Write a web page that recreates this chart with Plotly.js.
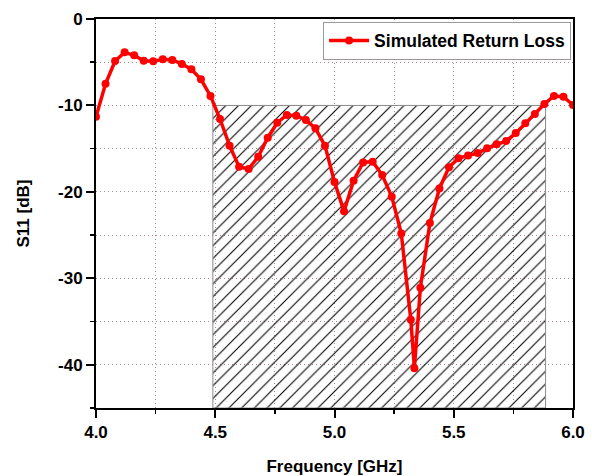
<!DOCTYPE html>
<html>
<head>
<meta charset="utf-8">
<script src="https://cdn.plot.ly/plotly-3.0.1.min.js"></script>
<style>html,body{margin:0;padding:0;background:#fff;}#chart{width:592px;height:476px;}</style>
</head>
<body>
<div id="chart"></div>
<script>
// Simulated return loss (GHz, dB)
var freq = [4.00,4.04,4.08,4.12,4.16,4.20,4.24,4.28,4.32,4.36,4.40,4.44,4.48,
            4.52,4.56,4.60,4.64,4.68,4.72,4.76,4.80,4.84,4.88,4.92,4.96,
            5.00,5.04,5.08,5.12,5.16,5.20,5.24,5.28,5.32,5.335,5.36,5.40,5.44,5.48,
            5.52,5.56,5.60,5.64,5.68,5.72,5.76,5.80,5.84,5.88,5.92,5.96,6.00];
var s11 = [-11.3,-7.5,-4.86,-3.86,-4.2,-4.82,-4.9,-4.67,-4.74,-5.2,-5.82,-6.98,-8.9,
           -11.57,-14.65,-17.08,-17.35,-15.93,-13.73,-12.0,-11.1,-11.18,-11.68,-12.65,-14.65,
           -18.85,-22.25,-18.7,-16.6,-16.5,-18.05,-20.55,-24.8,-34.8,-40.4,-31.1,-23.6,-19.6,-17.15,
           -16.1,-15.8,-15.5,-14.96,-14.5,-14.1,-13.2,-12.07,-11.0,-9.83,-8.9,-8.98,-9.95];
// Hatched band (S11 below -10 dB)
var bandFreq = [4.49, 5.885];
var bandLevel = -10;
var yFloor = -45;
var yTickVals = [0,-10,-20,-30,-40];
var yTickText = ['0','-10','-20','-30','-40'];
var xTickVals = [4.0,4.5,5.0,5.5,6.0];
var xTickText = ['4.0','4.5','5.0','5.5','6.0'];

var bandX = [bandFreq[0], bandFreq[0], bandFreq[1], bandFreq[1], bandFreq[0]];
var bandY = [yFloor, bandLevel, bandLevel, yFloor, yFloor];

var fontFam = 'Liberation Sans, Arial, sans-serif';
var gridCol = '#a88a9c';

var traces = [
  {
    x: bandX, y: bandY, type: 'scatter', mode: 'lines',
    fill: 'toself', fillcolor: 'rgba(0,0,0,0)',
    fillpattern: {shape: '/', size: 9, solidity: 0.12, fgcolor: '#000', bgcolor: 'rgba(0,0,0,0)', fgopacity: 1},
    line: {color: '#8a8a8a', width: 1},
    showlegend: false, hoverinfo: 'skip'
  },
  {
    x: freq, y: s11, type: 'scatter', mode: 'lines+markers',
    name: 'Simulated Return Loss',
    line: {color: '#ff0000', width: 3.5},
    marker: {color: '#ff0000', size: 8}
  }
];

var layout = {
  width: 592, height: 476,
  margin: {l: 96, r: 19, t: 19, b: 68},
  paper_bgcolor: '#fff', plot_bgcolor: '#fff',
  font: {family: fontFam, color: '#000'},
  showlegend: true,
  legend: {
    x: 0.996, y: 0.993, xanchor: 'right', yanchor: 'top',
    bgcolor: '#fff', bordercolor: '#999', borderwidth: 1,
    font: {family: fontFam, size: 17.5, weight: 'bold', color: '#000'},
    itemwidth: 40
  },
  xaxis: {
    range: [4.0, 6.0], tickvals: xTickVals, ticktext: xTickText,
    ticks: 'outside', ticklen: 8, tickwidth: 2, tickcolor: '#000',
    showline: true, linewidth: 2, linecolor: '#000', mirror: true,
    showgrid: true, gridcolor: gridCol, gridwidth: 1, griddash: '1px,3px',
    zeroline: false,
    minor: {dtick: 0.25, ticks: 'outside', ticklen: 4, tickwidth: 1.5, tickcolor: '#000',
            showgrid: true, gridcolor: gridCol, gridwidth: 1, griddash: '1px,3px'},
    tickfont: {family: fontFam, size: 17, weight: 'bold', color: '#000'},
    title: {text: 'Frequency [GHz]', font: {family: fontFam, size: 17, weight: 'bold', color: '#000'}, standoff: 19}
  },
  yaxis: {
    range: [yFloor, 0], tickvals: yTickVals, ticktext: yTickText,
    ticks: 'outside', ticklen: 8, tickwidth: 2, tickcolor: '#000',
    showline: true, linewidth: 2, linecolor: '#000', mirror: true,
    showgrid: true, gridcolor: gridCol, gridwidth: 1, griddash: '1px,3px',
    zeroline: false,
    minor: {dtick: 5, ticks: 'outside', ticklen: 4, tickwidth: 1.5, tickcolor: '#000',
            showgrid: true, gridcolor: gridCol, gridwidth: 1, griddash: '1px,3px'},
    tickfont: {family: fontFam, size: 17, weight: 'bold', color: '#000'},
    title: {text: 'S11 [dB]', font: {family: fontFam, size: 17, weight: 'bold', color: '#000'}, standoff: 24}
  }
};

Plotly.newPlot('chart', traces, layout, {displayModeBar: false, staticPlot: true});
</script>
</body>
</html>
